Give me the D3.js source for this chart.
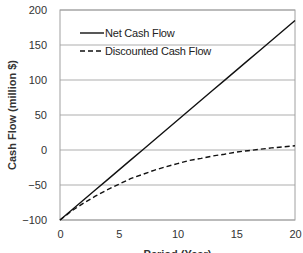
<!DOCTYPE html>
<html>
<head>
<meta charset="utf-8">
<script src="https://cdn.jsdelivr.net/npm/d3@7"></script>
<style>
  body { margin: 0; background: #fff; }
  text { font-family: "Liberation Sans", Arial, sans-serif; }
</style>
</head>
<body>
<div id="chart"></div>
<script>
// data
const years = [0, 1, 2, 3, 4, 5, 6, 7, 8, 9, 10, 11, 12, 13, 14, 15, 16, 17, 18, 19, 20];
const netCashFlow = [-100, -85.75, -71.5, -57.25, -43, -28.75, -14.5, -0.25, 14, 28.25, 42.5,
                     56.75, 71, 85.25, 99.5, 113.75, 128, 142.25, 156.5, 170.75, 185];
const discountedCashFlow = [-100, -87, -76, -66, -57, -49, -41, -35, -29, -24, -19.5,
                            -15, -12, -8.5, -6, -3, -1, 1, 3, 4.5, 6];
const xTicks = [0, 5, 10, 15, 20];
const yTicks = [-100, -50, 0, 50, 100, 150, 200];
const legendLabels = ["Net Cash Flow", "Discounted Cash Flow"];

const width = 303, height = 253;
const margin = { top: 10, right: 8, bottom: 33, left: 60 };

const svg = d3.select("#chart").append("svg")
    .attr("width", width)
    .attr("height", height);

const x = d3.scaleLinear().domain([0, 20]).range([margin.left, width - margin.right]);
const y = d3.scaleLinear().domain([-100, 200]).range([height - margin.bottom, margin.top]);

// gridlines
svg.append("g")
    .selectAll("line")
    .data(yTicks)
    .join("line")
    .attr("x1", x(0))
    .attr("x2", x(20))
    .attr("y1", d => y(d))
    .attr("y2", d => y(d))
    .style("stroke", "#c8c8c8")
    .style("stroke-width", "1.5px");

// plot frame
svg.append("rect")
    .attr("x", x(0))
    .attr("y", y(200))
    .attr("width", x(20) - x(0))
    .attr("height", y(-100) - y(200))
    .style("fill", "none")
    .style("stroke", "#a0a0a0")
    .style("stroke-width", "1px");

// axes (labels only)
const yAxis = svg.append("g")
    .attr("transform", `translate(${x(0)},0)`)
    .call(d3.axisLeft(y).tickValues(yTicks).tickSize(0).tickPadding(13)
        .tickFormat(d => d < 0 ? "\u2212" + Math.abs(d) : d));
yAxis.select(".domain").remove();
yAxis.selectAll("text").style("font-size", "11px").style("fill", "#333");

const xAxis = svg.append("g")
    .attr("transform", `translate(0,${y(-100)})`)
    .call(d3.axisBottom(x).tickValues(xTicks).tickSize(0).tickPadding(10));
xAxis.select(".domain").remove();
xAxis.selectAll("text").style("font-size", "11px").style("fill", "#333");

// axis titles
svg.append("text")
    .attr("transform", `translate(16,${(y(200) + y(-100)) / 2}) rotate(-90)`)
    .attr("text-anchor", "middle")
    .style("font-size", "11px")
    .style("font-weight", "bold")
    .style("fill", "#333")
    .text("Cash Flow (million $)");

svg.append("text")
    .attr("x", (x(0) + x(20)) / 2)
    .attr("y", 258)
    .attr("text-anchor", "middle")
    .style("font-size", "11px")
    .style("font-weight", "bold")
    .style("fill", "#333")
    .text("Period (Year)");

// lines
const line = d3.line().x((d, i) => x(years[i])).y(d => y(d));

svg.append("path")
    .datum(netCashFlow)
    .attr("d", line)
    .style("fill", "none")
    .style("stroke", "#111")
    .style("stroke-width", "1.4px");

svg.append("path")
    .datum(discountedCashFlow)
    .attr("d", line)
    .style("fill", "none")
    .style("stroke", "#111")
    .style("stroke-width", "1.4px")
    .style("stroke-dasharray", "5,3");

// legend
const legend = svg.append("g");
legendLabels.forEach((label, i) => {
    const ly = 33 + i * 18;
    legend.append("line")
        .attr("x1", 80).attr("x2", 104)
        .attr("y1", ly).attr("y2", ly)
        .style("stroke", "#111")
        .style("stroke-width", "1.4px")
        .style("stroke-dasharray", i === 1 ? "5,3" : null);
    legend.append("text")
        .attr("x", 105)
        .attr("y", ly + 4)
        .style("font-size", "11px")
        .style("fill", "#222")
        .style("letter-spacing", "-0.2px")
        .text(label);
});
</script>
</body>
</html>
